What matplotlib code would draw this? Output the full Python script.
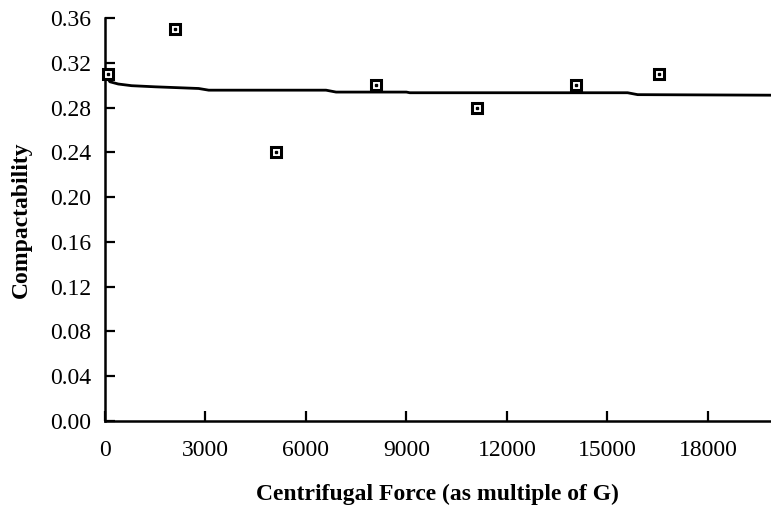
import matplotlib
matplotlib.use('Agg')
import matplotlib.pyplot as plt

# 측정값 (점)
force_pts = [100, 2100, 5100, 8100, 11100, 14050, 16550]
compact_pts = [0.31, 0.35, 0.24, 0.30, 0.28, 0.30, 0.31]

# 추세선
force_line = [0, 150, 400, 800, 1500, 2800, 3100, 6600, 6900, 9000, 9100,
              15600, 15900, 20000]
compact_line = [0.310, 0.303, 0.301, 0.2995, 0.2985, 0.297, 0.2955, 0.2955,
                0.2938, 0.2938, 0.2932, 0.2932, 0.2915, 0.2910]

x_ticks = [0, 3000, 6000, 9000, 12000, 15000, 18000]
y_ticks = [0.00, 0.04, 0.08, 0.12, 0.16, 0.20, 0.24, 0.28, 0.32, 0.36]

plt.rcParams['font.family'] = ['Liberation Serif', 'DejaVu Serif']

fig = plt.figure(figsize=(7.71, 5.07), dpi=100)
ax = fig.add_axes([0.136, 0.170, 0.864, 0.7945])

ax.plot(force_line, compact_line, color='black', lw=2.0)
ax.plot(force_pts, compact_pts, linestyle='none', marker='s', markersize=7.5,
        markerfacecolor='white', markeredgecolor='black', markeredgewidth=2.2,
        clip_on=False, zorder=3)
ax.plot(force_pts, compact_pts, linestyle='none', marker='s', markersize=1.6,
        color='black', clip_on=False, zorder=4)

ax.set_xlim(0, 19880)
ax.set_ylim(0, 0.36)
ax.set_xticks(x_ticks)
ax.set_yticks(y_ticks)
ax.set_yticklabels(['%.2f' % v for v in y_ticks])

for s in ['top', 'right']:
    ax.spines[s].set_visible(False)
for s in ['left', 'bottom']:
    ax.spines[s].set_linewidth(1.8)

ax.tick_params(axis='both', direction='in', length=7, width=1.6,
               labelsize=17)
ax.tick_params(axis='x', pad=14)
ax.tick_params(axis='y', pad=10)

ax.set_xlabel('Centrifugal Force (as multiple of G)', fontsize=17,
              fontweight='bold', labelpad=16)
ax.set_ylabel('Compactability', fontsize=17, fontweight='bold', labelpad=13)

fig.savefig('out.png', dpi=100)
